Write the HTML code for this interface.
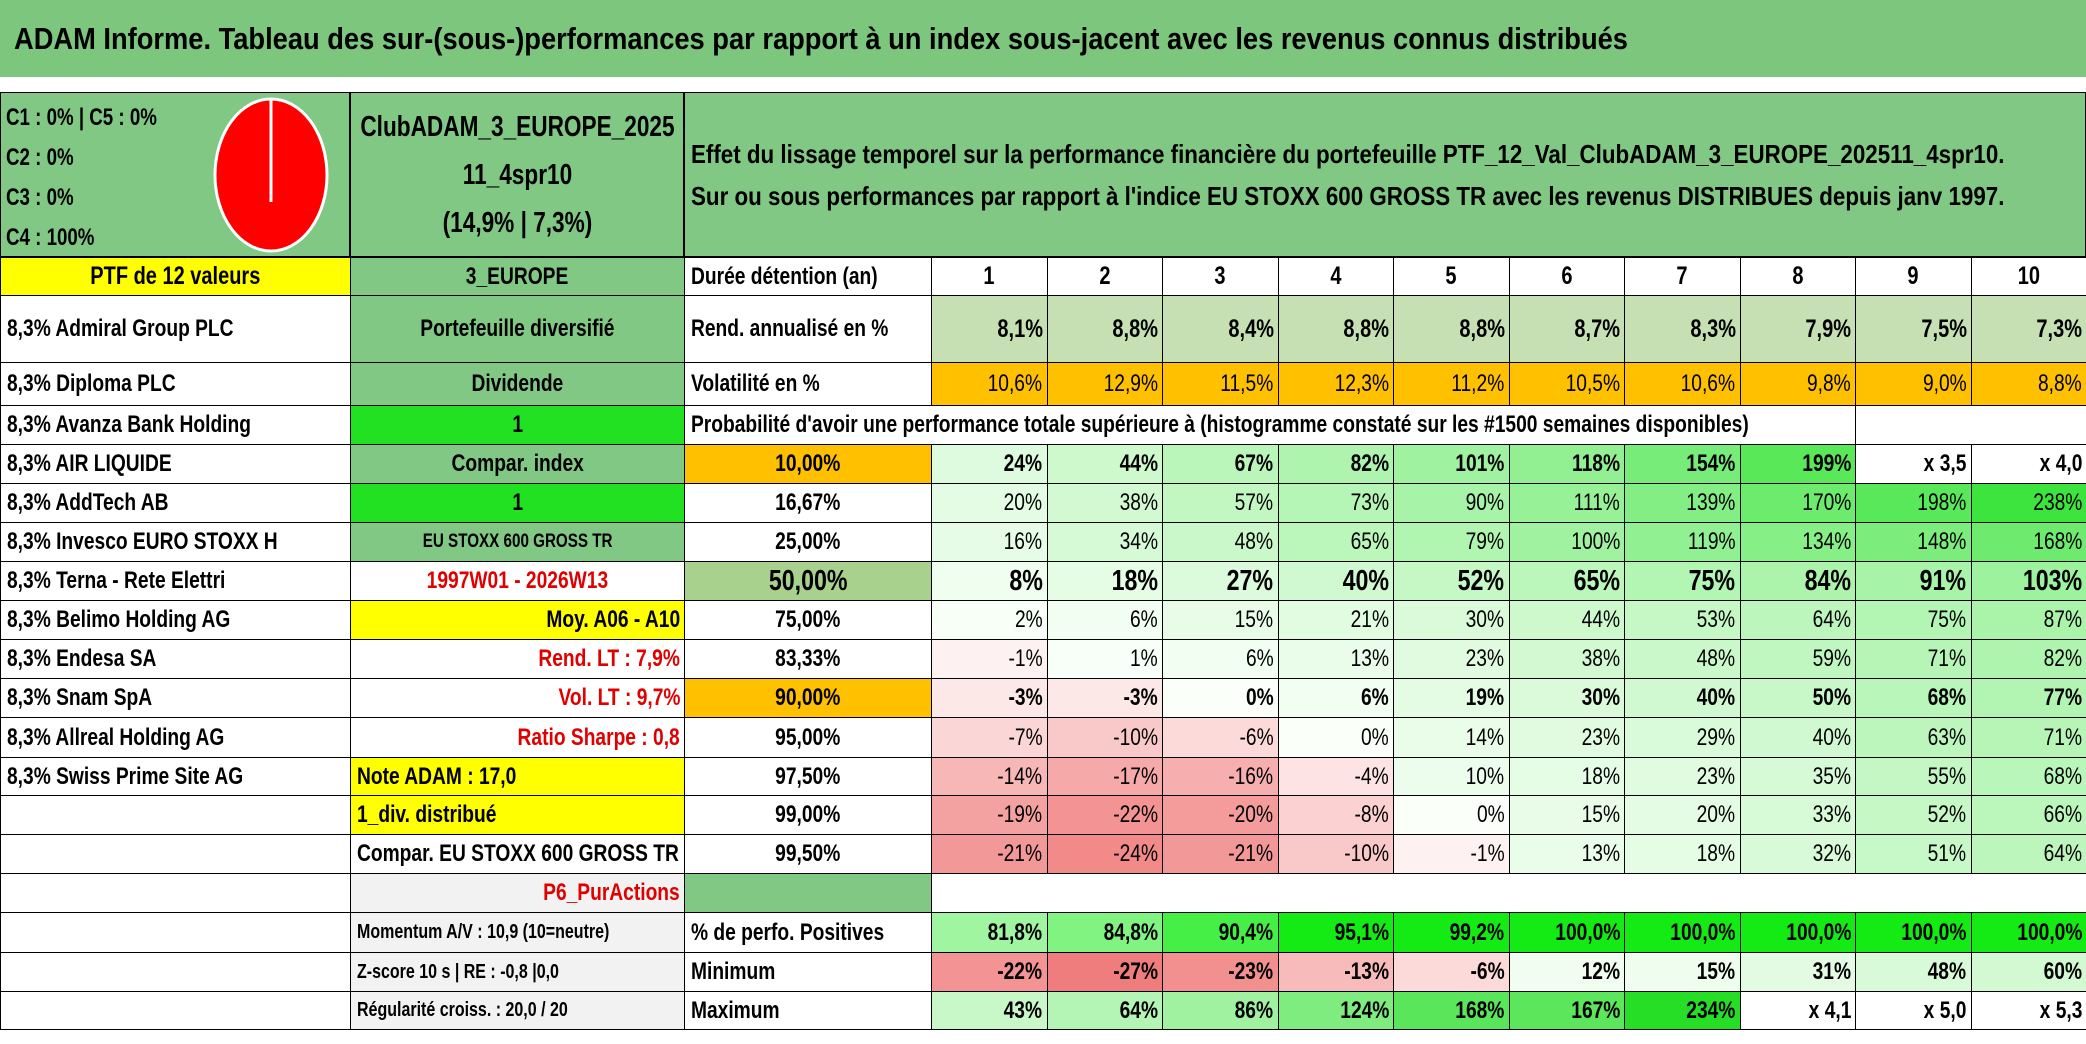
<!DOCTYPE html>
<html><head><meta charset="utf-8">
<style>
body{margin:0;width:2086px;height:1044px;position:relative;overflow:hidden;background:#fff;font-family:"Liberation Sans",sans-serif;color:#000}
.c{position:absolute;box-sizing:border-box;display:flex;align-items:center;overflow:visible;white-space:nowrap}
.c span{display:inline-block}
.L{justify-content:flex-start;padding-left:6px}.L span{transform:scaleX(.8);transform-origin:left center}
.R{justify-content:flex-end;padding-right:4px}.R span{transform:scaleX(.8);transform-origin:right center}
.C{justify-content:center}.C span{transform:scaleX(.8);transform-origin:center center}
</style></head><body>
<div class="c L" style="left:0;top:0;width:2086px;height:77px;background:#7dc67e;font-size:31px;font-weight:bold;padding-left:14px"><span style="transform:scaleX(.88)">ADAM Informe. Tableau des sur-(sous-)performances par rapport à un index sous-jacent avec les revenus connus distribués</span></div>
<div class="c" style="left:0;top:92px;width:350px;height:165px;background:#80c883;border:1px solid #000"></div>
<div style="position:absolute;left:6px;top:98px;font-size:24px;font-weight:bold;line-height:40px;transform:scaleX(.78);transform-origin:left top">C1 : 0% | C5 : 0%<br>C2 : 0%<br>C3 : 0%<br>C4 : 100%</div>
<svg style="position:absolute;left:200px;top:92px" width="140" height="165"><ellipse cx="71" cy="83" rx="56" ry="76" fill="#ff0000" stroke="#fff" stroke-width="3"/><line x1="71" y1="7" x2="71" y2="110" stroke="#fff" stroke-width="3"/></svg>
<div class="c C" style="left:350px;top:92px;width:334px;height:165px;background:#80c883;border:1px solid #000;text-align:center;font-size:29px;font-weight:bold;line-height:48px"><span style="transform:scaleX(.78)">ClubADAM_3_EUROPE_2025<br>11_4spr10<br>(14,9% | 7,3%)</span></div>
<div class="c L" style="left:684px;top:92px;width:1402px;height:165px;background:#80c883;border:1px solid #000;font-size:26px;font-weight:bold;line-height:42px"><span style="transform:scaleX(.86)">Effet du lissage temporel sur la performance financière du portefeuille PTF_12_Val_ClubADAM_3_EUROPE_202511_4spr10.<br>Sur ou sous performances par rapport à l'indice EU STOXX 600 GROSS TR avec les revenus DISTRIBUES depuis janv 1997.</span></div>
<div id="t"></div>
<script>
const colX=[0,350,684,931];for(let i=1;i<=10;i++)colX.push(931+115.5*i);
const rowY=[92,257,295,362,405,444,483,522,561,600,639,678,717,757,795,834,873,912,952,991,1029];
const holdings=["Admiral Group PLC","Diploma PLC","Avanza Bank Holding","AIR LIQUIDE","AddTech AB","Invesco EURO STOXX H","Terna - Rete Elettri","Belimo Holding AG","Endesa SA","Snam SpA","Allreal Holding AG","Swiss Prime Site AG"];
const weights=[8.3,8.3,8.3,8.3,8.3,8.3,8.3,8.3,8.3,8.3,8.3,8.3];
const years=[1,2,3,4,5,6,7,8,9,10];
const rend=[8.1,8.8,8.4,8.8,8.8,8.7,8.3,7.9,7.5,7.3];
const vol=[10.6,12.9,11.5,12.3,11.2,10.5,10.6,9.8,9.0,8.8];
const quantiles=["10,00%","16,67%","25,00%","50,00%","75,00%","83,33%","90,00%","95,00%","97,50%","99,00%","99,50%"];
const prob=[
[24,44,67,82,101,118,154,199,250,300],
[20,38,57,73,90,111,139,170,198,238],
[16,34,48,65,79,100,119,134,148,168],
[8,18,27,40,52,65,75,84,91,103],
[2,6,15,21,30,44,53,64,75,87],
[-1,1,6,13,23,38,48,59,71,82],
[-3,-3,0,6,19,30,40,50,68,77],
[-7,-10,-6,0,14,23,29,40,63,71],
[-14,-17,-16,-4,10,18,23,35,55,68],
[-19,-22,-20,-8,0,15,20,33,52,66],
[-21,-24,-21,-10,-1,13,18,32,51,64]];
const positives=[81.8,84.8,90.4,95.1,99.2,100,100,100,100,100];
const minimum=[-22,-27,-23,-13,-6,12,15,31,48,60];
const maximum=[43,64,86,124,168,167,234,310,400,430];

const T=document.getElementById('t');
function cell(c0,c1,r,text,cls,style,name,inter){
  const el=document.createElement('div');
  el.className='c '+cls;
  
  
  el.style.cssText='left:'+colX[c0]+'px;top:'+rowY[r]+'px;width:'+(colX[c1]-colX[c0]+1)+'px;height:'+(rowY[r+1]-rowY[r]+1)+'px;border:1px solid #000;font-size:24px;'+(style||'');
  const s=document.createElement('span');s.textContent=text;el.appendChild(s);
  T.appendChild(el);return el;
}
function mix(a,b,t){return 'rgb('+a.map((v,i)=>Math.round(v+(b[i]-v)*t)).join(',')+')';}
function heat(v,top){
  if(v>=250)return '#fff';
  if(v<0)return mix([255,245,245],[240,125,125],Math.min(-v/27,1));
  return mix([250,255,250],top,Math.pow(Math.min(v/240,1),0.85));
}
function fmtX(v){return v>=250?('x '+((v+100)/100).toFixed(1)).replace('.',','):v+'%';}
const B='font-weight:bold;';
// column A
cell(0,1,1,'PTF de 12 valeurs','C','background:#ffff00;font-size:25px;'+B,'ptf-header',false);
for(let i=0;i<12;i++)cell(0,1,2+i,weights[i].toFixed(1).replace('.',',')+'% '+holdings[i],'L',B,'holding-'+(i+1),false);
for(let r=14;r<20;r++)cell(0,1,r,'','L','','empty-a',false);
// column B
const G='background:#80c883;'+B;
cell(1,2,1,'3_EUROPE','C',G,'zone-label',false);
cell(1,2,2,'Portefeuille diversifié','C',G,'strategy-label',false);
cell(1,2,3,'Dividende','C',G,'dividend-label',false);
cell(1,2,4,'1','C','background:#22e022;'+B,'option-1',true);
cell(1,2,5,'Compar. index','C',G,'compare-index-label',false);
cell(1,2,6,'1','C','background:#22e022;'+B,'option-2',true);
cell(1,2,7,'EU STOXX 600 GROSS TR','C',G+'font-size:19px','index-name',false);
cell(1,2,8,'1997W01 - 2026W13','C','color:#e00000;'+B,'period',false);
cell(1,2,9,'Moy. A06 - A10','R','background:#ffff00;'+B,'average-label',false);
cell(1,2,10,'Rend. LT : 7,9%','R','color:#e00000;'+B,'long-term-return',false);
cell(1,2,11,'Vol. LT : 9,7%','R','color:#e00000;'+B,'long-term-volatility',false);
cell(1,2,12,'Ratio Sharpe : 0,8','R','color:#e00000;'+B,'sharpe-ratio',false);
cell(1,2,13,'Note ADAM : 17,0','L','background:#ffff00;'+B,'adam-score',false);
cell(1,2,14,'1_div. distribué','L','background:#ffff00;'+B,'dividend-distributed',false);
cell(1,2,15,'Compar. EU STOXX 600 GROSS TR','L',B,'comparison-label',false);
cell(1,2,16,'P6_PurActions','R','background:#f2f2f2;color:#e00000;'+B,'profile-label',false);
cell(1,2,17,'Momentum A/V : 10,9 (10=neutre)','L','background:#f2f2f2;font-size:20px;'+B,'momentum',false);
cell(1,2,18,'Z-score 10 s | RE : -0,8 |0,0','L','background:#f2f2f2;font-size:20px;'+B,'z-score',false);
cell(1,2,19,'Régularité croiss. : 20,0 / 20','L','background:#f2f2f2;font-size:20px;'+B,'regularity',false);
// column C labels
cell(2,3,1,'Durée détention (an)','L',B,'holding-period-label',false);
cell(2,3,2,'Rend. annualisé en %','L',B,'annual-return-label',false);
cell(2,3,3,'Volatilité en %','L',B,'volatility-label',false);
cell(2,11,4,"Probabilité d'avoir une performance totale supérieure à (histogramme constaté sur les #1500 semaines disponibles)",'L',B,'probability-caption',false);
cell(11,13,4,'','C','','caption-blank',false);
for(let q=0;q<quantiles.length;q++){
  let st=B;
  if(q===0||q===6)st+='background:#ffc000;';
  if(q===3)st+='background:#a9d18e;font-size:29px;';
  cell(2,3,5+q,quantiles[q],'C',st,'quantile-'+quantiles[q],false);
}
cell(2,3,16,'','C',G,'green-blank',false);
cell(2,3,17,'% de perfo. Positives','L',B,'positives-label',false);
cell(2,3,18,'Minimum','L',B,'minimum-label',false);
cell(2,3,19,'Maximum','L',B,'maximum-label',false);
// data
for(let j=0;j<years.length;j++){
  const c=3+j;
  cell(c,c+1,1,String(years[j]),'C',B+'font-size:25px','year-'+years[j],false);
  cell(c,c+1,2,rend[j].toFixed(1).replace('.',',')+'%','R','background:#c6e0b4;'+B+'font-size:25px','return-y'+years[j],false);
  cell(c,c+1,3,vol[j].toFixed(1).replace('.',',')+'%','R','background:#ffc000','volatility-y'+years[j],false);
  for(let q=0;q<prob.length;q++){
    const v=prob[q][j];
    let st='background:'+heat(v,[60,228,60])+';';
    if(q===0||q===6)st+=B;
    if(q===3)st+=B+'font-size:29px;';
    if(v>=250)st+=B;
    cell(c,c+1,5+q,fmtX(v),'R',st,'prob-q'+q+'-y'+years[j],false);
  }
  const pv=positives[j];
  cell(c,c+1,17,pv.toFixed(1).replace('.',',')+'%','R',B+'background:'+mix([200,248,200],[20,235,20],Math.min(Math.max((pv-78)/17,0),1)),'positive-y'+years[j],false);
  cell(c,c+1,18,fmtX(minimum[j]),'R',B+'background:'+heat(minimum[j],[120,235,120]),'min-y'+years[j],false);
  cell(c,c+1,19,fmtX(maximum[j]),'R',B+'background:'+heat(maximum[j],[34,221,34]),'max-y'+years[j],false);
}
</script>
</body></html>
